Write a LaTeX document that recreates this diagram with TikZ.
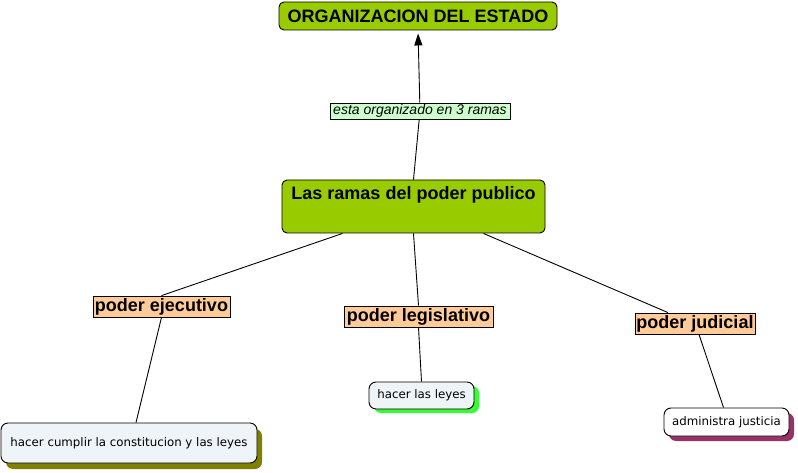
\documentclass[tikz,border=0pt]{standalone}
\usepackage{fontspec}
\setmainfont{Liberation Sans}
\newfontfamily\verdanafont{DejaVu Sans}
\usepackage{tikz}
\usetikzlibrary{arrows.meta, positioning, shadows}
\definecolor{mapgreen}{RGB}{153,204,0}
\definecolor{mappeach}{RGB}{255,204,153}
\definecolor{linkgreen}{RGB}{204,255,204}
\definecolor{leafblue}{RGB}{238,244,247}
\definecolor{shadeolive}{RGB}{128,128,0}
\definecolor{shadegreen}{RGB}{51,255,51}
\definecolor{shademaroon}{RGB}{153,51,102}

\begin{document}
\begin{tikzpicture}[
  x=1pt, y=-1pt,
  every node/.style={inner sep=0pt},
  topic/.style={rectangle, rounded corners=5pt, draw, line width=0.9pt, fill=mapgreen, font=\fontsize{18}{20}\selectfont\bfseries},
  branch/.style={rectangle, draw, line width=0.8pt, fill=mappeach, font=\fontsize{18}{20}\selectfont\bfseries, minimum height=21pt},
  linklabel/.style={rectangle, draw, line width=0.8pt, fill=linkgreen, font=\fontsize{14}{16}\selectfont\itshape, minimum height=16pt},
  leaf/.style={rectangle, rounded corners=7pt, draw, line width=0.9pt, font=\verdanafont\fontsize{11.8}{13}\selectfont},
  conn/.style={line width=0.9pt},
  arr/.style={-{Triangle[length=12pt, width=8pt]}, line width=0.9pt}
]
\useasboundingbox (0,0) rectangle (798,473);

% top concept and its branches
\node[topic, minimum width=278pt, minimum height=28pt] (org) at (418,16) {ORGANIZACION DEL ESTADO};
\node[topic, minimum width=263pt, inner sep=3pt, text height=17pt, text depth=30pt] (ramas) at (413.5,206.5) {Las ramas del poder publico};
\node[linklabel, minimum width=180pt] (lbl) at (420,111) {esta organizado en 3 ramas};

\node[branch, minimum width=137pt] (ejec)  at (161.5,306.5) {poder ejecutivo};
\node[branch, minimum width=149pt] (legis) at (418.5,316.5) {poder legislativo};
\node[branch, minimum width=120pt] (judic) at (695,323.5)   {poder judicial};

% leaves with coloured shadows
\node[leaf, fill=leafblue, minimum width=256pt, minimum height=40pt,
      drop shadow={shadow xshift=5pt, shadow yshift=-6pt, fill=shadeolive, opacity=1}] (cumpl) at (129,443) {hacer cumplir la constitucion y las leyes};
\node[leaf, fill=leafblue, minimum width=105pt, minimum height=27pt,
      drop shadow={shadow xshift=5pt, shadow yshift=-4pt, fill=shadegreen, opacity=1}] (leyes) at (421.5,395.5) {hacer las leyes};
\node[leaf, fill=white, minimum width=125pt, minimum height=28pt,
      drop shadow={shadow xshift=5pt, shadow yshift=-5pt, fill=shademaroon, opacity=1}] (just) at (726.5,422) {administra justicia};

% connectors
\draw[conn] (ramas.north) -- (lbl);
\draw[arr, shorten >=3pt] (lbl) -- (org.south);
\draw[conn] ([xshift=-71pt]ramas.south) -- (ejec.north);
\draw[conn] (ramas.south) -- (legis.north);
\draw[conn] ([xshift=70pt]ramas.south) -- ([xshift=-27pt]judic.north);
\draw[conn] (ejec.south) -- ([xshift=7pt]cumpl.north);
\draw[conn] (legis.south) -- (leyes.north);
\draw[conn] ([xshift=4pt]judic.south) -- ([xshift=-3pt]just.north);
\end{tikzpicture}
\end{document}
